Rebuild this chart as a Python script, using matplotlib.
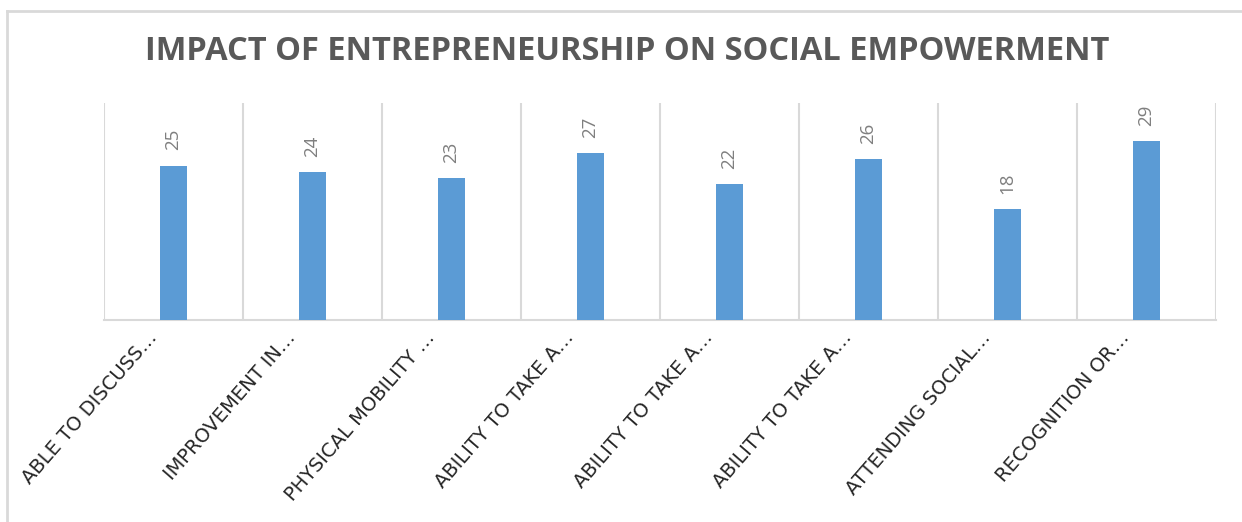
import numpy as np
import matplotlib
matplotlib.use('Agg')
import matplotlib.pyplot as plt
from matplotlib.lines import Line2D

# data
categories = ['ABLE TO DISCUSS…', 'IMPROVEMENT IN…', 'PHYSICAL MOBILITY …',
              'ABILITY TO TAKE A…', 'ABILITY TO TAKE A…', 'ABILITY TO TAKE A…',
              'ATTENDING SOCIAL…', 'RECOGNITION OR…']
values = [25, 24, 23, 27, 22, 26, 18, 29]
title = 'IMPACT OF ENTREPRENEURSHIP ON SOCIAL EMPOWERMENT'

plt.rcParams['font.family'] = ['Open Sans', 'DejaVu Sans']

fig = plt.figure(figsize=(12.42, 5.22), dpi=100)
ax = fig.add_axes([104/1242, 1 - 320/522, (1216 - 104)/1242, (320 - 103)/522])

x = np.arange(len(values))
ax.bar(x, values, width=0.19, color='#5b9bd5', zorder=3)

ax.set_xlim(-0.5, len(values) - 0.5)
ax.set_ylim(0, 35.15)

# category separators
for b in np.arange(-0.5, len(values), 1.0):
    ax.axvline(b, color='#d9d9d9', lw=1.5, zorder=1)

for s in ['top', 'left', 'right']:
    ax.spines[s].set_visible(False)
ax.spines['bottom'].set_color('#d9d9d9')
ax.spines['bottom'].set_linewidth(1.5)
ax.set_yticks([])
ax.set_xticks([])

# value labels
for xi, v in zip(x, values):
    ax.annotate(str(v), xy=(xi, v), xytext=(0, 11), textcoords='offset points',
                rotation=90, ha='center', va='bottom', fontsize=13.5, color='#7f7f7f')

# rotated category labels (wider face to mimic the spaced-out lettering)
for xi, lab in zip(x, categories):
    ax.annotate(lab, xy=(xi, 0), xycoords=('data', 'axes fraction'),
                xytext=(-11.5, -13), textcoords='offset points',
                rotation=49, rotation_mode='anchor', ha='right', va='baseline',
                fontsize=14, color='#262626', fontfamily='DejaVu Sans')

fig.text(627/1242, 1 - 52/522, title, ha='center', va='center',
         fontsize=23.5, fontweight='bold', color='#595959')

# chart frame (top and left edges visible)
fig.add_artist(Line2D([7/1242, 1.0], [1 - 11/522, 1 - 11/522], color='#d9d9d9', lw=2))
fig.add_artist(Line2D([7/1242, 7/1242], [0.0, 1 - 11/522], color='#d9d9d9', lw=2))

fig.savefig('out.png', dpi=100, facecolor='white')
